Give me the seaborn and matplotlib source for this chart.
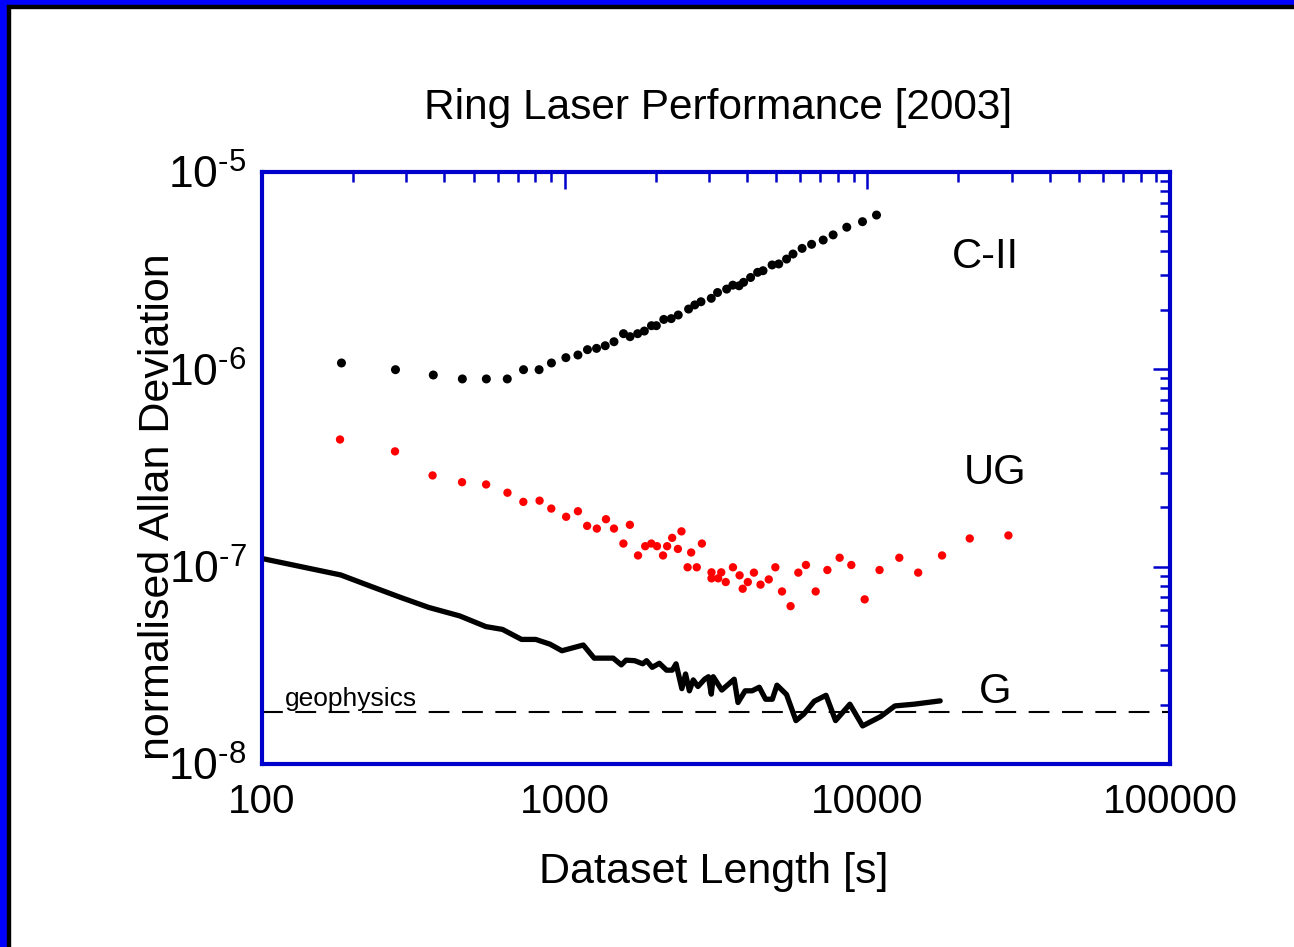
import numpy as np
import pandas as pd
import matplotlib
matplotlib.use("Agg")
import matplotlib.pyplot as plt
import matplotlib.ticker as mticker
from matplotlib.patches import Rectangle
import seaborn as sns

# C-II ring laser (black dots)
c2_len = [183, 276, 368, 459, 551, 646, 731, 823, 904, 1009, 1106, 1189, 1274, 1361,
          1455, 1564, 1644, 1742, 1833, 1935, 2008, 2125, 2249, 2372, 2566, 2690, 2820,
          3050, 3199, 3428, 3593, 3767, 3899, 4113, 4339, 4521, 4844, 5095, 5408, 5680,
          6086, 6542, 7145, 7706, 8550, 9636, 10720]
c2_dev = [1.077e-6, 0.996e-6, 0.936e-6, 0.894e-6, 0.894e-6, 0.894e-6, 0.996e-6, 0.996e-6,
          1.077e-6, 1.146e-6, 1.182e-6, 1.258e-6, 1.277e-6, 1.317e-6, 1.38e-6, 1.516e-6,
          1.464e-6, 1.516e-6, 1.563e-6, 1.664e-6, 1.664e-6, 1.79e-6, 1.807e-6, 1.885e-6,
          2.02e-6, 2.12e-6, 2.20e-6, 2.29e-6, 2.45e-6, 2.55e-6, 2.67e-6, 2.65e-6, 2.76e-6,
          2.92e-6, 3.10e-6, 3.16e-6, 3.38e-6, 3.42e-6, 3.62e-6, 3.84e-6, 4.10e-6, 4.30e-6,
          4.52e-6, 4.80e-6, 5.25e-6, 5.60e-6, 6.05e-6]

# UG ring laser (red dots)
ug_len = [181, 275, 366, 458, 550, 647, 730, 826, 903, 1011, 1106, 1186, 1277, 1369,
          1455, 1642, 1563, 1747, 1845, 1933, 2018, 2113, 2180, 2265, 2366, 2431, 2617,
          2840, 2547, 2731, 3055, 3055, 3214, 3290, 3405, 3597, 3783, 3873, 4027, 4219,
          4436, 4723, 4966, 5224, 5576, 5914, 6268, 6749, 7377, 8098, 8850, 9797, 10970,
          12750, 14720, 17650, 21790, 29240]
ug_dev = [4.41e-7, 3.84e-7, 2.90e-7, 2.68e-7, 2.61e-7, 2.37e-7, 2.13e-7, 2.16e-7, 1.97e-7,
          1.79e-7, 1.91e-7, 1.61e-7, 1.56e-7, 1.74e-7, 1.56e-7, 1.63e-7, 1.31e-7, 1.14e-7,
          1.27e-7, 1.31e-7, 1.27e-7, 1.14e-7, 1.27e-7, 1.40e-7, 1.23e-7, 1.51e-7, 1.18e-7,
          1.31e-7, 0.993e-7, 0.993e-7, 0.936e-7, 0.873e-7, 0.873e-7, 0.936e-7, 0.836e-7,
          0.993e-7, 0.904e-7, 0.773e-7, 0.836e-7, 0.933e-7, 0.811e-7, 0.862e-7, 0.993e-7,
          0.749e-7, 0.631e-7, 0.933e-7, 1.02e-7, 0.749e-7, 0.962e-7, 1.11e-7, 1.02e-7,
          0.683e-7, 0.962e-7, 1.11e-7, 0.933e-7, 1.14e-7, 1.39e-7, 1.44e-7]

# G ring laser (black line)
g_len = [100, 182, 230, 286, 355, 450, 549, 623, 720, 802, 894, 979, 1152, 1251, 1446,
         1538, 1595, 1702, 1811, 1864, 1946, 2055, 2170, 2266, 2333, 2438, 2508, 2582,
         2659, 2756, 2898, 2985, 3050, 3096, 3304, 3631, 3737, 3946, 4161, 4394, 4611,
         4853, 5027, 5407, 5808, 6162, 6673, 7301, 7850, 8753, 9645, 11060, 12330, 14250,
         17400]
g_dev = [1.10e-7, 0.908e-7, 0.793e-7, 0.700e-7, 0.622e-7, 0.563e-7, 0.497e-7, 0.481e-7,
         0.428e-7, 0.428e-7, 0.405e-7, 0.375e-7, 0.401e-7, 0.344e-7, 0.344e-7, 0.318e-7,
         0.336e-7, 0.334e-7, 0.322e-7, 0.334e-7, 0.309e-7, 0.324e-7, 0.299e-7, 0.299e-7,
         0.322e-7, 0.241e-7, 0.286e-7, 0.235e-7, 0.267e-7, 0.247e-7, 0.269e-7, 0.277e-7,
         0.226e-7, 0.277e-7, 0.237e-7, 0.269e-7, 0.205e-7, 0.235e-7, 0.235e-7, 0.245e-7,
         0.213e-7, 0.213e-7, 0.251e-7, 0.225e-7, 0.166e-7, 0.179e-7, 0.208e-7, 0.223e-7,
         0.166e-7, 0.201e-7, 0.156e-7, 0.174e-7, 0.197e-7, 0.201e-7, 0.209e-7]

geophysics_level = 1.84e-8

x_ticks = [100, 1000, 10000, 100000]
x_tick_labels = ['100', '1000', '10000', '100000']
y_ticks = [1e-8, 1e-7, 1e-6, 1e-5]
y_tick_labels = [r'$10^{\text{-}8}$', r'$10^{\text{-}7}$', r'$10^{\text{-}6}$', r'$10^{\text{-}5}$']

c2_df = pd.DataFrame({'length': c2_len, 'dev': c2_dev})
ug_df = pd.DataFrame({'length': ug_len, 'dev': ug_dev})
g_df = pd.DataFrame({'length': g_len, 'dev': g_dev})

sns.set_theme(style="white")
plt.rcParams['font.family'] = ['Liberation Sans', 'DejaVu Sans']
plt.rcParams['mathtext.fontset'] = 'custom'
plt.rcParams['mathtext.rm'] = 'Liberation Sans'
plt.rcParams['mathtext.default'] = 'regular'
plt.rcParams['text.color'] = 'black'
plt.rcParams['axes.labelcolor'] = 'black'

spine_blue = '#0000CC'

fig = plt.figure(figsize=(12.94, 9.47), dpi=100)
ax = fig.add_axes([0.2025, 0.1932, 0.7017, 0.6252])

# outer frame (left and top only, as in the slide)
fig.patches.append(Rectangle((0, 0), 7 / 1294, 1, transform=fig.transFigure,
                             color='#0000FF', zorder=0))
fig.patches.append(Rectangle((0, 1 - 5 / 947), 1, 5 / 947, transform=fig.transFigure,
                             color='#0000FF', zorder=0))
fig.patches.append(Rectangle((7 / 1294, 0), 3 / 1294, 1 - 5 / 947, transform=fig.transFigure,
                             color='black', zorder=0))
fig.patches.append(Rectangle((7 / 1294, 1 - 8 / 947), 1, 3 / 947, transform=fig.transFigure,
                             color='black', zorder=0))

sns.scatterplot(ax=ax, data=c2_df, x='length', y='dev', color='black', s=42,
                edgecolor='none', legend=False)
sns.scatterplot(ax=ax, data=ug_df, x='length', y='dev', color='#FF0000', s=36,
                edgecolor='none', legend=False)
sns.lineplot(ax=ax, data=g_df, x='length', y='dev', color='black', lw=3.8,
             estimator=None, sort=False)
ax.axhline(geophysics_level, color='black', lw=1.5, dashes=(10, 6))

ax.set_xscale('log')
ax.set_yscale('log')
ax.set_xlim(100, 100000)
ax.set_ylim(1e-8, 1e-5)

ax.text(24500, 3.72e-6, 'C-II', fontsize=30, ha='center', va='center')
ax.text(26400, 2.99e-7, 'UG', fontsize=30, ha='center', va='center')
ax.text(26400, 2.32e-8, 'G', fontsize=30, ha='center', va='center')
ax.text(119, 1.97e-8, 'geophysics', fontsize=19, ha='left', va='baseline')

ax.xaxis.set_major_locator(mticker.FixedLocator(x_ticks))
ax.xaxis.set_major_formatter(mticker.FixedFormatter(x_tick_labels))
ax.xaxis.set_minor_locator(mticker.LogLocator(base=10, subs=np.arange(2, 10)))
ax.xaxis.set_minor_formatter(mticker.NullFormatter())
ax.yaxis.set_major_locator(mticker.FixedLocator(y_ticks))
ax.yaxis.set_major_formatter(mticker.FixedFormatter(y_tick_labels))
ax.yaxis.set_minor_locator(mticker.LogLocator(base=10, subs=np.arange(2, 10), numticks=10))
ax.yaxis.set_minor_formatter(mticker.NullFormatter())

ax.tick_params(which='both', direction='in', top=True, right=True, color=spine_blue,
               width=1.8, labelcolor='black')
ax.tick_params(which='major', length=12, labelsize=29)
ax.tick_params(which='minor', length=7)
ax.tick_params(axis='x', which='major', pad=14)
ax.tick_params(axis='y', which='major', pad=11, labelsize=32)

for sp in ax.spines.values():
    sp.set_color(spine_blue)
    sp.set_linewidth(3)

ax.set_xlabel('Dataset Length [s]', fontsize=31)
ax.set_ylabel('normalised Allan Deviation', fontsize=31)
ax.xaxis.set_label_coords(0.497, -0.149)
ax.yaxis.set_label_coords(-0.092, 0.434)

fig.text(0.555, 0.886, 'Ring Laser Performance [2003]', fontsize=30.5, ha='center',
         va='center')

plt.savefig('out.png', dpi=100)
